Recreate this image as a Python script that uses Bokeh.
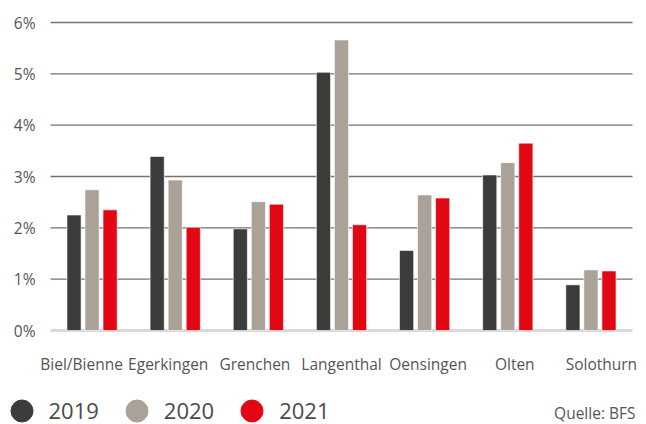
from bokeh.plotting import figure
from bokeh.models import Range1d, Legend, LegendItem
from bokeh.core.properties import value
from bokeh.embed import file_html
from bokeh.resources import INLINE

categories = ["Biel/Bienne", "Egerkingen", "Grenchen", "Langenthal", "Oensingen", "Olten", "Solothurn"]
years = ["2019", "2020", "2021"]
v2019 = [2.25, 3.39, 1.98, 5.03, 1.56, 3.03, 0.89]
v2020 = [2.74, 2.93, 2.51, 5.66, 2.64, 3.27, 1.18]
v2021 = [2.35, 2.01, 2.46, 2.06, 2.58, 3.65, 1.16]
colors = ["#3c3c3a", "#aaa198", "#e30613"]
ytick_values = [0, 1, 2, 3, 4, 5, 6]
ytick_labels = [f"{t}%" for t in ytick_values]
source_note = "Quelle: BFS"

FONT = "Open Sans"
TXT = "#555555"

n = len(categories)
xpos = [i + 0.5 for i in range(n)]

W, H = 646, 424
PX_PER_X = (W - 64) / n          # plot area 50..632
PX_PER_Y = 308 / 6.0             # 6% at y=22, 0% at y=330
x_range = Range1d(-50 / PX_PER_X, n + 14 / PX_PER_X)
y_range = Range1d(-(H - 330) / PX_PER_Y, 6 + 22 / PX_PER_Y)

p = figure(width=W, height=H, x_range=x_range, y_range=y_range,
           x_axis_location=None, y_axis_location=None,
           output_backend="svg", toolbar_location=None,
           min_border=0, min_border_left=0, min_border_right=0,
           min_border_top=0, min_border_bottom=0)
p.outline_line_color = None
p.background_fill_color = "white"
p.border_fill_color = "white"
p.grid.visible = False

# horizontal grid lines at the y ticks, across the category extent
grid_t = [t for t in ytick_values if t > 0]
p.segment(x0=[0] * len(grid_t), x1=[n] * len(grid_t), y0=grid_t, y1=grid_t,
          line_color="#727272", line_width=1.3)
# baseline
p.segment(x0=[0], x1=[n], y0=[0], y1=[0], line_color="#d9d9d9", line_width=3)

offs = [-0.217, 0.0, 0.217]
series = [v2019, v2020, v2021]
for o, vals, col in zip(offs, series, colors):
    p.vbar(x=[v + o for v in xpos], top=vals, width=0.17,
           fill_color=col, line_color="white", line_width=0.6)

# y tick labels
p.text(x=[-15 / PX_PER_X] * len(ytick_values), y=ytick_values, text=ytick_labels,
       text_font=value(FONT), text_font_size="15.5px", text_color=TXT,
       text_align="right", text_baseline="middle")

# category labels (spread slightly wider than the bar groups, as in the original)
spread = 1.042
label_x = [n / 2 + (x - n / 2) * spread for x in xpos]
p.text(x=label_x, y=[-33 / PX_PER_Y] * n, text=categories,
       text_font=value(FONT), text_font_size="15.5px", text_color=TXT,
       text_align="center", text_baseline="middle")

# legend with circle markers (off-screen NaN point)
nan = float("nan")
items = []
for yr, col in zip(years, colors):
    r = p.scatter(x=[nan], y=[nan], marker="circle", size=22, fill_color=col, line_color=col)
    items.append(LegendItem(label=yr, renderers=[r], index=0))
legend = Legend(items=items, orientation="horizontal", location=(-6.5, -13.5),
                label_text_font=FONT, label_text_font_size="22px", label_text_color="#4a4a4a",
                glyph_width=55, glyph_height=55, label_standoff=0, spacing=10,
                border_line_color=None, background_fill_alpha=0, padding=0, margin=0)
p.add_layout(legend, "center")

# source note, bottom right
p.text(x=[n + 3 / PX_PER_X], y=[-(412 - 330) / PX_PER_Y], text=[source_note],
       text_font=value(FONT), text_font_size="15.5px", text_color=TXT,
       text_align="right", text_baseline="middle")

open("out.html", "w").write(file_html(p, INLINE))
